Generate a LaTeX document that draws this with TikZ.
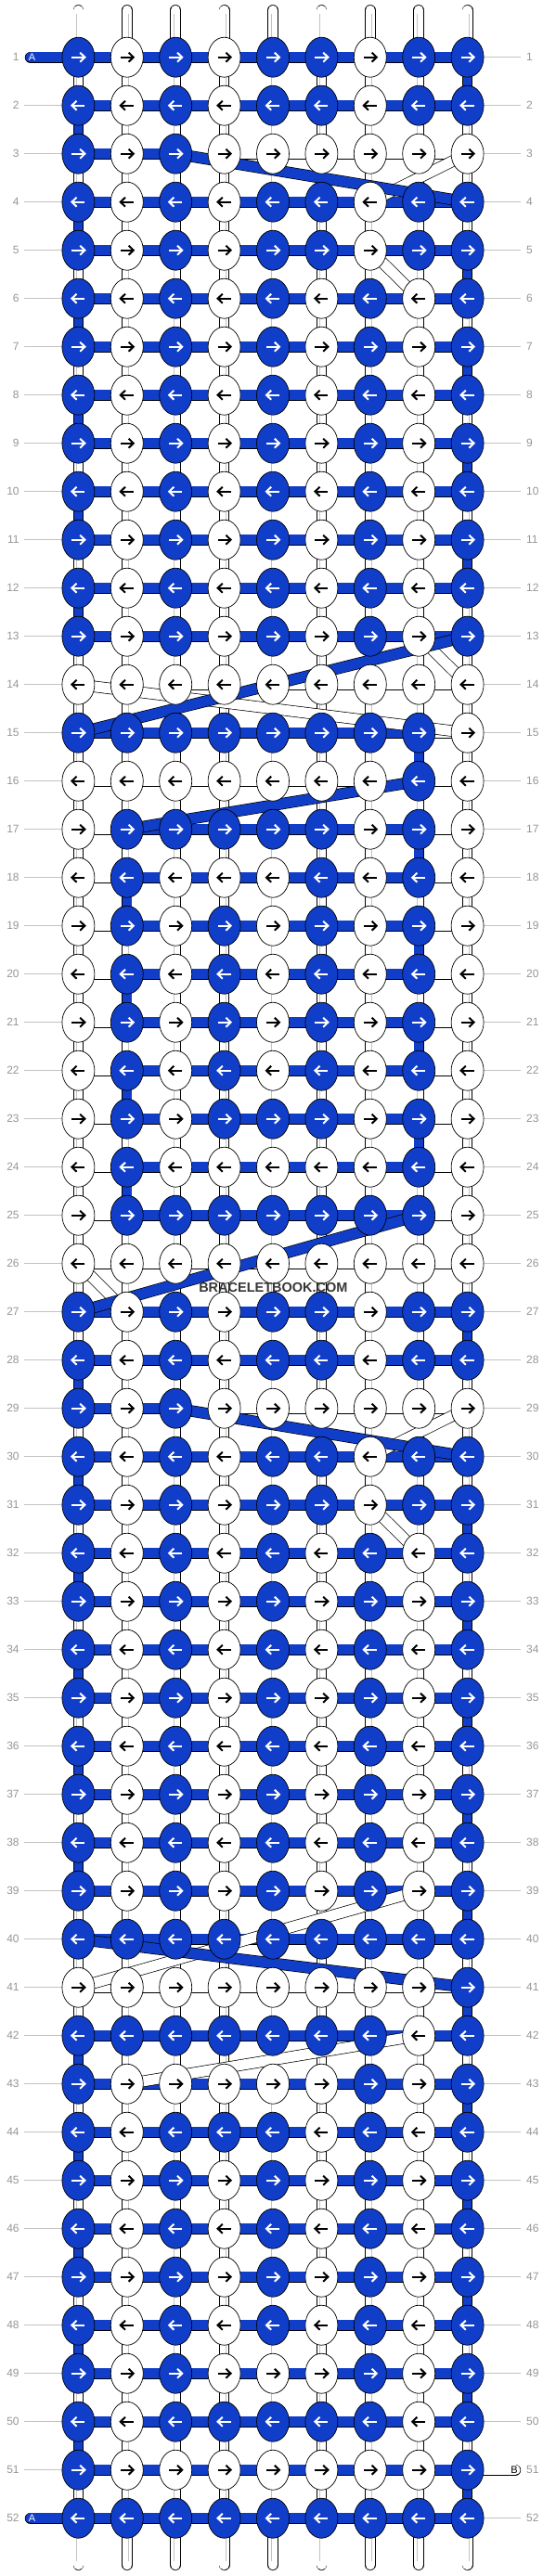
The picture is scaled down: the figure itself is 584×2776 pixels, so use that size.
\documentclass[tikz,border=0pt]{standalone}
\usepackage{fontspec}
\setmainfont{Liberation Sans}
\usetikzlibrary{shapes.geometric}
\definecolor{bbblue}{RGB}{17,62,200}
\definecolor{lblgray}{RGB}{150,150,150}
\definecolor{lngray}{RGB}{195,195,195}
\definecolor{wmgray}{RGB}{55,55,55}
\pgfdeclarelayer{bg}
\pgfsetlayers{bg,main}
\begin{document}
\begin{tikzpicture}[x=1pt,y=-1pt,
  knot/.style={ellipse, draw=black, line width=0.7pt, minimum width=35pt, minimum height=43pt, inner sep=0pt},
  knot0/.style={knot, fill=white},
  knot1/.style={knot, fill=bbblue},
  hstr0/.style={draw=black, line width=0.7pt, double=white, double distance=11pt},
  hstr1/.style={draw=black, line width=0.7pt, double=bbblue, double distance=11pt},
  vstr0/.style={draw=black, line width=0.65pt, double=white, double distance=9.5pt,
     postaction={draw=lngray, line width=0.45pt, double=white, double distance=3pt}},
  vstr1/.style={draw=black, line width=0.65pt, double=bbblue, double distance=9.5pt},
  endstr/.style={draw=black, line width=0.65pt, double=white, double distance=10.5pt, line cap=round},
  arr0/.style={draw=black, line width=2pt, line join=miter},
  arr1/.style={draw=white, line width=2pt, line join=miter},
  rowline/.style={draw=lngray, line width=0.7pt},
  rowlbl/.style={text=lblgray, font=\fontsize{12}{12}\selectfont, inner sep=0pt},
]
\begin{pgfonlayer}{bg}
\fill[white] (0,0) rectangle (584,2776);
\end{pgfonlayer}
\useasboundingbox (0,0) rectangle (584,2776);

% ---------- knots ----------
\foreach \r/\cols in {
 1/{1,0,1,0,1,1,0,1,1}, 2/{1,0,1,0,1,1,0,1,1}, 3/{1,0,1,0,0,0,0,0,0}, 4/{1,0,1,0,1,1,0,1,1},
 5/{1,0,1,0,1,1,0,1,1}, 6/{1,0,1,0,1,0,1,0,1}, 7/{1,0,1,0,1,0,1,0,1}, 8/{1,0,1,0,1,0,1,0,1},
 9/{1,0,1,0,1,0,1,0,1}, 10/{1,0,1,0,1,0,1,0,1}, 11/{1,0,1,0,1,0,1,0,1}, 12/{1,0,1,0,1,0,1,0,1},
 13/{1,0,1,0,1,0,1,0,1}, 14/{0,0,0,0,0,0,0,0,0}, 15/{1,1,1,1,1,1,1,1,0}, 16/{0,0,0,0,0,0,0,1,0},
 17/{0,1,1,1,1,1,0,1,0}, 18/{0,1,0,0,0,1,0,1,0}, 19/{0,1,0,1,0,1,0,1,0}, 20/{0,1,0,1,0,1,0,1,0},
 21/{0,1,0,1,0,1,0,1,0}, 22/{0,1,0,1,0,1,0,1,0}, 23/{0,1,0,1,1,1,0,1,0}, 24/{0,1,0,0,0,0,0,1,0},
 25/{0,1,1,1,1,1,1,1,0}, 26/{0,0,0,0,0,0,0,0,0}, 27/{1,0,1,0,1,1,0,1,1}, 28/{1,0,1,0,1,1,0,1,1},
 29/{1,0,1,0,0,0,0,0,0}, 30/{1,0,1,0,1,1,0,1,1}, 31/{1,0,1,0,1,1,0,1,1}, 32/{1,0,1,0,1,0,1,0,1},
 33/{1,0,1,0,1,0,1,0,1}, 34/{1,0,1,0,1,0,1,0,1}, 35/{1,0,1,0,1,0,1,0,1}, 36/{1,0,1,0,1,0,1,0,1},
 37/{1,0,1,0,1,0,1,0,1}, 38/{1,0,1,0,1,0,1,0,1}, 39/{1,0,1,0,1,0,1,0,1}, 40/{1,1,1,1,1,1,1,1,1},
 41/{0,0,0,0,0,0,0,0,1}, 42/{1,1,1,1,1,1,1,0,1}, 43/{1,0,0,0,0,0,1,0,1}, 44/{1,0,1,1,1,0,1,0,1},
 45/{1,0,1,0,1,0,1,0,1}, 46/{1,0,1,0,1,0,1,0,1}, 47/{1,0,1,0,1,0,1,0,1}, 48/{1,0,1,0,1,0,1,0,1},
 49/{1,0,1,0,0,0,1,0,1}, 50/{1,0,1,1,1,1,1,0,1}, 51/{1,0,0,0,0,0,0,0,1}, 52/{1,1,1,1,1,1,1,1,1}} {
  \pgfmathsetmacro\yy{61.7+52*(\r-1)}
  \pgfmathsetmacro\dir{ifthenelse(mod(\r,2)==1,1,-1)}
  \foreach \c [count=\i from 0] in \cols {
    \pgfmathsetmacro\xx{84.4+52.4*\i}
    \node[knot\c] (k-\r-\i) at (\xx,\yy) {};
    \draw[arr\c] ({\xx-7*\dir},\yy) -- ({\xx+6*\dir},\yy);
    \draw[arr\c] ({\xx+1.8*\dir},{\yy-5}) -- ({\xx+7*\dir},\yy) -- ({\xx+1.8*\dir},{\yy+5});
  }
  \coordinate (L-\r) at (26.3,\yy);
  \coordinate (R-\r) at (561,\yy);
  \node[rowlbl, anchor=east] (nl-\r) at (20.8,\yy) {\r};
  \node[rowlbl, anchor=west] (nr-\r) at (567,\yy) {\r};
}

% ---------- strings under the knots ----------
\begin{pgfonlayer}{bg}
% row guide lines
\foreach \r in {2,...,51} { \draw[rowline] (L-\r) -- (k-\r-0.center); }
\foreach \r in {1,...,50,52} { \draw[rowline] (k-\r-8.center) -- (R-\r); }
% top and bottom strings
\foreach \i in {0,...,8} {
  \pgfmathsetmacro\xx{84.4+52.4*\i}
  \coordinate (t-\i) at (\xx,11);
  \coordinate (b-\i) at (\xx,2764);
  \draw[endstr, postaction={draw=lngray, line width=0.45pt, double=white, double distance=3pt, line cap=butt, shorten <=4pt}] (t-\i) -- (k-1-\i.center);
  \draw[endstr, postaction={draw=lngray, line width=0.45pt, double=white, double distance=3pt, line cap=butt, shorten >=4pt}] (k-52-\i.center) -- (b-\i);
}
% vertical connectors: white everywhere, blue where the working string turns
\foreach \r in {1,...,51} {
  \pgfmathtruncatemacro\rn{\r+1}
  \foreach \i in {0,...,8} { \draw[vstr0] (k-\r-\i.center) -- (k-\rn-\i.center); }
}
\foreach \r/\i in {1/8,2/0,4/0,5/8,6/0,7/8,8/0,9/8,10/0,11/8,12/0,15/7,17/7,18/1,19/7,20/1,21/7,22/1,23/7,24/1,
  27/8,28/0,30/0,31/8,32/0,33/8,34/0,35/8,36/0,37/8,38/0,39/8,41/8,42/0,43/8,44/0,45/8,46/0,47/8,48/0,49/8,50/0,51/8} {
  \pgfmathtruncatemacro\rn{\r+1}
  \draw[vstr1] (k-\r-\i.center) -- (k-\rn-\i.center);
}
% horizontal connectors: blue by default, white where listed
\foreach \r in {1,...,52} {
  \foreach \i in {0,...,7} {
    \pgfmathtruncatemacro\j{\i+1}
    \draw[hstr1] (k-\r-\i.center) -- (k-\r-\j.center);
  }
}
\foreach \r/\i in {3/2,3/3,3/4,3/5,3/6,3/7,29/2,29/3,29/4,29/5,29/6,29/7,
  14/0,14/1,14/2,14/3,14/4,14/5,14/6,14/7, 16/0,16/1,16/2,16/3,16/4,16/5,16/6,16/7,
  26/0,26/1,26/2,26/3,26/4,26/5,26/6,26/7, 41/0,41/1,41/2,41/3,41/4,41/5,41/6,41/7,
  15/7,17/0,17/7,18/0,18/7,19/0,19/7,20/0,20/7,21/0,21/7,22/0,22/7,23/0,23/7,24/0,24/7,25/0,25/7} {
  \pgfmathtruncatemacro\j{\i+1}
  \draw[hstr0] (k-\r-\i.center) -- (k-\r-\j.center);
}
% A and B string ends
\coordinate (A1) at (33,61.7);
\coordinate (A52) at (33,2713.7);
\coordinate (B51) at (555,2661.7);
\draw[hstr1, line cap=round] (A1) -- (k-1-0.center);
\draw[hstr1, line cap=round] (A52) -- (k-52-0.center);
\draw[hstr0, line cap=round] (k-51-8.center) -- (B51);
% diagonal white strings
\draw[hstr0] (k-3-8.center) -- (k-4-6.center);
\draw[hstr0] (k-5-6.center) -- (k-6-7.center);
\draw[hstr0] (k-13-7.center) -- (k-14-8.center);
\draw[hstr0] (k-14-0.center) -- (k-15-8.center);
\draw[hstr0] (k-26-0.center) -- (k-27-1.center);
\draw[hstr0] (k-29-8.center) -- (k-30-6.center);
\draw[hstr0] (k-31-6.center) -- (k-32-7.center);
\draw[hstr0] (k-39-7.center) -- (k-41-0.center);
\draw[hstr0] (k-42-7.center) -- (k-43-1.center);
% diagonal blue strings
\draw[hstr1] (k-3-2.center) -- (k-4-8.center);
\draw[hstr1] (k-13-8.center) -- (k-15-0.center);
\draw[hstr1] (k-16-7.center) -- (k-17-1.center);
\draw[hstr1] (k-25-7.center) -- (k-27-0.center);
\draw[hstr1] (k-29-2.center) -- (k-30-8.center);
\draw[hstr1] (k-40-0.center) -- (k-41-8.center);
\end{pgfonlayer}

% labels on the end strings
\node[font=\fontsize{11}{11}\selectfont, text=white, inner sep=0pt] (lA1) at (34.5,61.7) {A};
\node[font=\fontsize{11}{11}\selectfont, text=white, inner sep=0pt] (lA52) at (34.5,2713.7) {A};
\node[font=\fontsize{11}{11}\selectfont, text=black, inner sep=0pt] (lB51) at (554,2661.7) {B};
% watermark
\node[font=\bfseries\fontsize{14.5}{14.5}\selectfont, text=wmgray, inner sep=0pt] (wm) at (294.4,1387.7) {BRACELETBOOK.COM};
\end{tikzpicture}
\end{document}
